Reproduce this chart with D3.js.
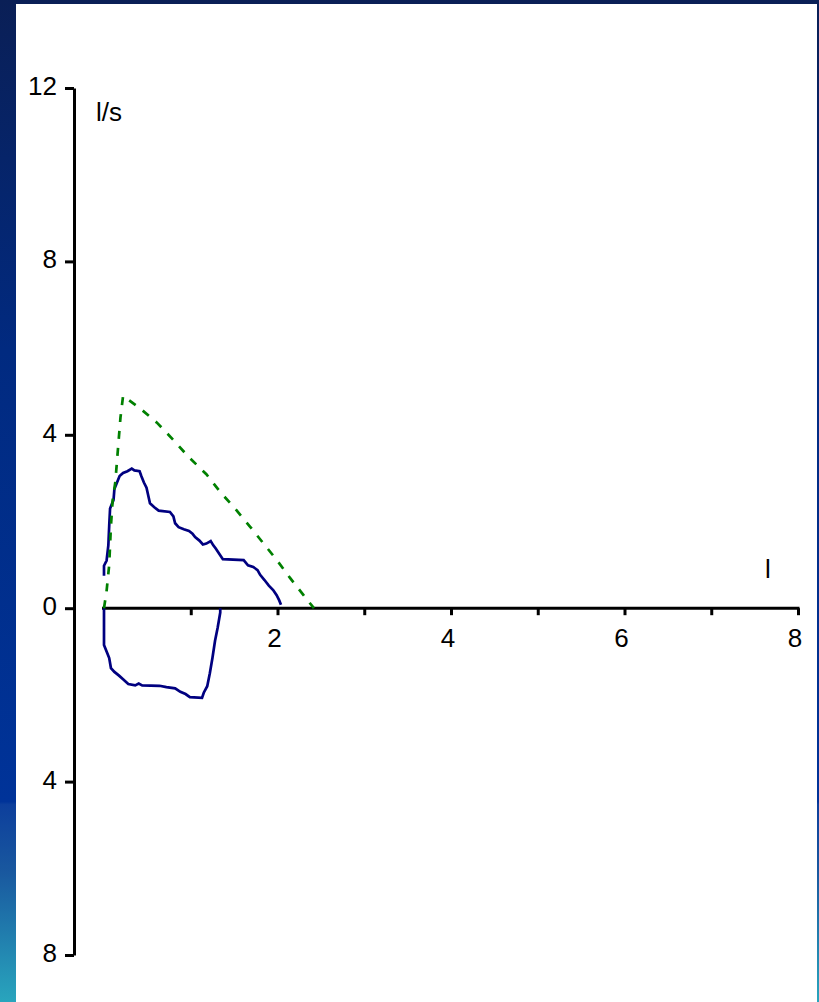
<!DOCTYPE html>
<html><head><meta charset="utf-8">
<script src="https://cdn.jsdelivr.net/npm/d3@7"></script>
<style>
html,body{margin:0;padding:0;overflow:hidden;}
svg{display:block;}
text{font-family:"Liberation Sans",Arial,sans-serif;}
</style></head>
<body>
<script>
// Measured expiratory limb (volume l, flow l/s)
const expVolume = [0,0,0.03,0.05,0.06,0.07,0.11,0.12,0.15,0.18,0.22,0.27,0.32,0.35,0.41,0.43,0.46,0.49,0.51,0.53,0.58,0.63,0.76,0.80,0.82,0.86,0.92,0.98,1.02,1.05,1.10,1.14,1.18,1.23,1.26,1.29,1.33,1.37,1.61,1.66,1.72,1.77,1.80,1.85,1.90,1.95,1.99,2.02,2.04];
const expFlow   = [0.75,0.98,1.1,1.45,1.9,2.3,2.5,2.75,2.9,3.05,3.12,3.16,3.22,3.18,3.16,3.05,2.9,2.78,2.6,2.42,2.33,2.25,2.22,2.12,1.96,1.87,1.82,1.78,1.72,1.64,1.56,1.47,1.49,1.55,1.45,1.37,1.25,1.13,1.11,0.99,0.95,0.88,0.77,0.65,0.52,0.42,0.30,0.18,0.08];
// Inspiratory limb
const inspVolume = [0,0,0.03,0.06,0.08,0.12,0.17,0.22,0.28,0.36,0.40,0.44,0.64,0.72,0.82,0.88,0.94,0.99,1.13,1.15,1.19,1.22,1.25,1.28,1.31,1.34,1.34];
const inspFlow   = [0,-0.85,-1.0,-1.15,-1.38,-1.47,-1.55,-1.64,-1.75,-1.78,-1.74,-1.78,-1.79,-1.82,-1.85,-1.93,-1.98,-2.05,-2.07,-1.95,-1.8,-1.5,-1.15,-0.75,-0.45,-0.1,0];
// Predicted curve (green dashed)
const predVolume = [0,0.03,0.06,0.08,0.10,0.13,0.15,0.17,0.19,0.22,0.41,0.61,0.80,0.98,1.18,1.34,1.51,1.68,1.84,2.00,2.14,2.30,2.42];
const predFlow   = [0,0.4,1.0,1.9,2.5,2.9,3.4,3.9,4.4,4.9,4.62,4.28,3.88,3.48,3.09,2.68,2.30,1.89,1.49,1.09,0.71,0.30,0.0];
// Axis ticks
const xTicks = [1,2,3,4,5,6,7,8];
const xTickLabels = ["","2","","4","","6","","8"];
const yTicks = [-8,-4,0,4,8,12];
const yTickLabels = ["8","4","0","4","8","12"];
const yUnit = "l/s";
const xUnit = "l";

const W = 819, H = 1002;
const svg = d3.select("body").append("svg").attr("width", W).attr("height", H);
const defs = svg.append("defs");
const g = defs.append("linearGradient").attr("id","bg").attr("x1",0).attr("y1",0).attr("x2",0).attr("y2",1);
[[0,"#0a1f56"],[0.35,"#012a80"],[0.8,"#003399"],[0.803,"#0d3f9c"],[0.87,"#19589f"],[1,"#29a5bd"]]
  .forEach(([o,c]) => g.append("stop").attr("offset",o).attr("stop-color",c));
svg.append("rect").attr("width",W).attr("height",H).attr("fill","url(#bg)");
svg.append("rect").attr("x",16).attr("y",4).attr("width",801).attr("height",H-4).attr("fill","#ffffff");

const x = d3.scaleLinear().domain([0,8]).range([104,798]);
const y = d3.scaleLinear().domain([-8,12]).range([955,88]);

// Y axis
const yAxis = d3.axisLeft(y).tickValues(yTicks).tickSize(9).tickSizeOuter(0)
  .tickFormat((d,i) => yTickLabels[i]);
const ya = svg.append("g").attr("transform","translate(74,0)").call(yAxis);
ya.select(".domain").attr("stroke","#000").attr("stroke-width",3);
ya.selectAll(".tick line").attr("stroke","#000").attr("stroke-width",3);
ya.selectAll(".tick text").attr("x",-17).attr("dy",null).attr("y",6.5)
  .attr("font-size",26).attr("fill","#000").attr("font-family",null);

// X axis
const xAxis = d3.axisBottom(x).tickValues(xTicks).tickSize(7).tickSizeOuter(0)
  .tickFormat((d,i) => xTickLabels[i]);
const xa = svg.append("g").attr("transform",`translate(0,${y(0)})`).call(xAxis);
xa.select(".domain").attr("d",`M${x(0)-2},0H${x(8)+1.5}`).attr("stroke","#000").attr("stroke-width",3);
xa.selectAll(".tick line").attr("stroke","#000").attr("stroke-width",3);
xa.selectAll(".tick text").attr("x",-3.5).attr("dy",null).attr("y",39)
  .attr("font-size",26).attr("fill","#000").attr("font-family",null);
ya.attr("font-family",null); xa.attr("font-family",null);

svg.append("text").attr("x",96).attr("y",121).attr("font-size",26).text(yUnit);
svg.append("text").attr("x",765).attr("y",578).attr("font-size",26).text(xUnit);

const line = d3.line().x(d => x(d[0])).y(d => y(d[1]));
const pred = predVolume.map((v,i)=>[v,predFlow[i]]);
const exp = expVolume.map((v,i)=>[v,expFlow[i]]);
const insp = inspVolume.map((v,i)=>[v,inspFlow[i]]);

svg.append("path").datum(exp).attr("d",line).attr("fill","none").attr("stroke","#000080").attr("stroke-width",2.7);
svg.append("path").datum(insp).attr("d",line).attr("fill","none").attr("stroke","#000080").attr("stroke-width",2.7);
svg.append("path").datum(pred).attr("d",line).attr("fill","none").attr("stroke","#008000").attr("stroke-width",2.7)
  .attr("stroke-dasharray","8,9");
</script>
</body></html>
